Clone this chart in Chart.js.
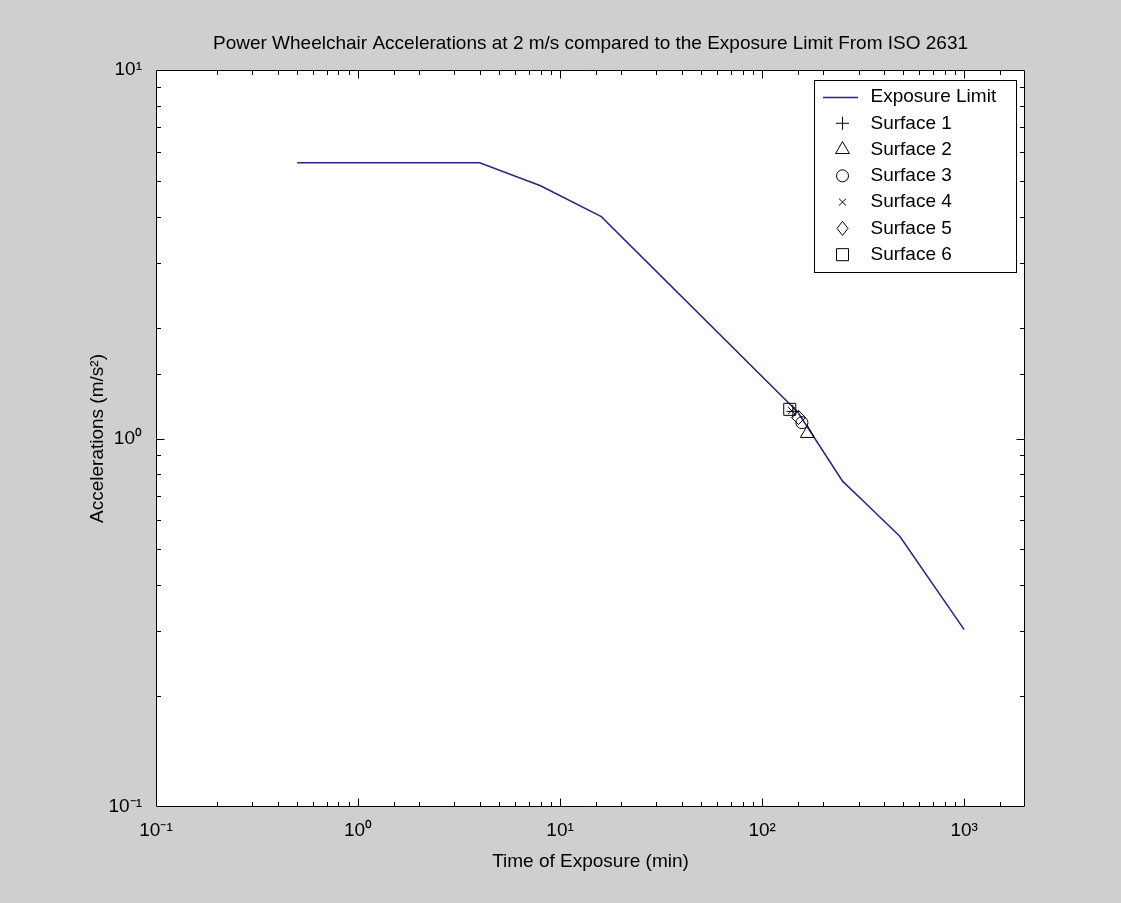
<!DOCTYPE html>
<html><head><meta charset="utf-8">
<script src="https://cdn.jsdelivr.net/npm/chart.js@4/dist/chart.umd.min.js"></script>
<style>html,body{margin:0;padding:0;background:#cfcfcf;overflow:hidden;}</style>
</head><body>
<canvas id="c" width="1121" height="903" style="display:block;width:1121px;height:903px;"></canvas>
<script>
// ---- data ----
const limitTime  = [0.5, 4, 8, 16, 150, 250, 330, 480, 1000];          // min
const limitAccel = [5.6, 5.6, 4.85, 4.0, 1.18, 0.766, 0.662, 0.543, 0.303]; // m/s^2
const surfaceNames  = ['Surface 1','Surface 2','Surface 3','Surface 4','Surface 5','Surface 6'];
const surfaceTime   = [142, 167.5, 157.4, 140, 151.3, 137];
const surfaceAccel  = [1.185, 1.032, 1.104, 1.19, 1.14, 1.20];
const surfaceStyles = ['cross','triangle','circle','crossRot','rectRot','rect'];
const surfaceRadius = [6.5, 8, 6, 5, 7, 8.5];
const xLimits = [0.1, 2000];
const yLimits = [0.1, 10];
const titleText = 'Power Wheelchair Accelerations at 2 m/s compared to the Exposure Limit From ISO 2631';
const xTitle = 'Time of Exposure (min)';
const yTitle = 'Accelerations (m/s\u00B2)';
const lineLabel = 'Exposure Limit';

const FONT = '"Liberation Sans", Arial, Helvetica, sans-serif';
const SUP = {'-':'\u207B','0':'\u2070','1':'\u00B9','2':'\u00B2','3':'\u00B3','4':'\u2074','5':'\u2075','6':'\u2076','7':'\u2077','8':'\u2078','9':'\u2079'};
function isDecade(v){ const l=Math.log10(v); return Math.abs(l-Math.round(l))<1e-9; }
function decadeLabel(v){
  if(!isDecade(v)) return '';
  const e = String(Math.round(Math.log10(v)));
  return '10' + e.split('').map(c=>SUP[c]).join('');
}

const bgPlugin = {
  id:'bg',
  beforeDraw(chart){
    const {ctx, chartArea:a} = chart;
    ctx.save();
    ctx.fillStyle = '#cfcfcf';
    ctx.fillRect(0,0,chart.width,chart.height);
    ctx.fillStyle = '#ffffff';
    ctx.fillRect(a.left,a.top,a.right-a.left,a.bottom-a.top);
    ctx.restore();
  }
};

const framePlugin = {
  id:'frame',
  afterDatasetsDraw(chart){
    const {ctx, chartArea:a, scales} = chart;
    ctx.save();
    ctx.strokeStyle = '#000';
    ctx.lineWidth = 1;
    const L=Math.round(a.left)+0.5, R=Math.round(a.right)-0.5, T=Math.round(a.top)+0.5, B=Math.round(a.bottom)-0.5;
    ctx.beginPath();
    ctx.rect(L,T,R-L,B-T);
    ctx.stroke();
    ctx.beginPath();
    scales.x.ticks.forEach(t=>{
      const v=t.value; if(v<=xLimits[0]||v>=xLimits[1]) return;
      const len = isDecade(v)?8:4.5;
      const p = Math.round(scales.x.getPixelForValue(v))+0.5;
      ctx.moveTo(p,B); ctx.lineTo(p,B-len);
      ctx.moveTo(p,T); ctx.lineTo(p,T+len);
    });
    scales.y.ticks.forEach(t=>{
      const v=t.value; if(v<=yLimits[0]||v>=yLimits[1]) return;
      const len = isDecade(v)?8:4.5;
      const p = Math.round(scales.y.getPixelForValue(v))+0.5;
      ctx.moveTo(L,p); ctx.lineTo(L+len,p);
      ctx.moveTo(R,p); ctx.lineTo(R-len,p);
    });
    ctx.stroke();
    ctx.restore();
  }
};

function drawMarker(ctx, style, r, x, y, w){
  const H = (window.Chart && Chart.helpers) ? Chart.helpers : null;
  if(H && H.drawPointLegend){
    ctx.beginPath && 0;
    H.drawPointLegend(ctx, {pointStyle:style, radius:r, rotation:0, borderWidth:1}, x, y, w);
    return;
  }
  ctx.beginPath();
  if(style==='line'){ ctx.moveTo(x-w/2,y); ctx.lineTo(x+w/2,y); ctx.stroke(); return; }
  if(style==='cross'){ ctx.moveTo(x-r,y); ctx.lineTo(x+r,y); ctx.moveTo(x,y-r); ctx.lineTo(x,y+r); }
  else if(style==='crossRot'){ const s=r*Math.SQRT1_2; ctx.moveTo(x-s,y-s); ctx.lineTo(x+s,y+s); ctx.moveTo(x-s,y+s); ctx.lineTo(x+s,y-s); }
  else if(style==='circle'){ ctx.arc(x,y,r,0,Math.PI*2); }
  else if(style==='triangle'){ ctx.moveTo(x,y-r); ctx.lineTo(x+0.866*r,y+r/2); ctx.lineTo(x-0.866*r,y+r/2); ctx.closePath(); }
  else if(style==='rectRot'){ const hw = w? w/2 : r; ctx.moveTo(x-hw,y); ctx.lineTo(x,y-r); ctx.lineTo(x+hw,y); ctx.lineTo(x,y+r); ctx.closePath(); }
  else if(style==='rect'){ const s=r*Math.SQRT1_2; ctx.rect(x-s,y-s,2*s,2*s); }
  ctx.stroke();
}

const legendPlugin = {
  id:'boxLegend',
  afterDraw(chart){
    const {ctx} = chart;
    const bx=814.5, by=80.5, bw=202, bh=192;
    ctx.save();
    ctx.fillStyle='#fff';
    ctx.fillRect(bx,by,bw,bh);
    ctx.strokeStyle='#000'; ctx.lineWidth=1;
    ctx.strokeRect(bx,by,bw,bh);
    const rows = chart.data.datasets.map(d=>d);
    const y0=97, dy=26.28, symX=842.5, textX=870.5;
    ctx.font = '19px ' + FONT;
    ctx.textBaseline='middle';
    ctx.textAlign='left';
    rows.forEach((d,i)=>{
      const y=y0+i*dy;
      ctx.save();
      ctx.strokeStyle = d.borderColor; ctx.fillStyle='rgba(0,0,0,0)'; ctx.lineWidth = d.showLine===false?1:1.5;
      if(d.showLine===false){
        const w = d.pointStyle==='rectRot' ? 11 : undefined;
        drawMarker(ctx, d.pointStyle, d.pointRadius, symX, y, w);
      } else {
        ctx.beginPath(); ctx.moveTo(823,y+0.5); ctx.lineTo(858,y+0.5); ctx.stroke();
      }
      ctx.restore();
      ctx.fillStyle='#000';
      ctx.fillText(d.label, textX, y);
    });
    ctx.restore();
  }
};

const datasets = [{
  label: lineLabel,
  data: limitTime.map((t,i)=>({x:t, y:limitAccel[i]})),
  borderColor:'#27277a',
  backgroundColor:'#27277a',
  borderWidth:1.5,
  pointRadius:0,
  tension:0,
  fill:false,
  order:1
}].concat(surfaceNames.map((name,i)=>({
  label:name,
  data:[{x:surfaceTime[i], y:surfaceAccel[i]}],
  showLine:false,
  pointStyle:surfaceStyles[i],
  pointRadius:surfaceRadius[i],
  borderColor:'#000',
  backgroundColor:'rgba(0,0,0,0)',
  pointBorderWidth:1,
  borderWidth:1,
  order:0
})));

Chart.defaults.font.family = FONT;
Chart.defaults.color = '#000';

new Chart(document.getElementById('c').getContext('2d'), {
  type:'line',
  data:{datasets},
  options:{
    responsive:false,
    animation:false,
    events:[],
    devicePixelRatio:1,
    layout:{padding:{left:0,right:96,top:0,bottom:0}},
    plugins:{
      legend:{display:false},
      tooltip:{enabled:false},
      title:{display:true, text:titleText, fullSize:false, color:'#000',
        font:{family:FONT, size:19, weight:'normal', lineHeight:1.2},
        padding:{top:32.6,bottom:14.6}}
    },
    scales:{
      x:{type:'logarithmic', position:'bottom', min:xLimits[0], max:xLimits[1],
        grid:{display:false, drawTicks:false, tickLength:0},
        border:{display:false},
        ticks:{autoSkip:false, maxRotation:0, minRotation:0, padding:12, color:'#000',
          font:{family:FONT, size:19}, callback:(v)=>decadeLabel(v)},
        title:{display:true, text:xTitle, color:'#000', font:{family:FONT,size:19,lineHeight:1.2}, padding:{top:0,bottom:30}},
        afterFit(s){ s.height = 96; }
      },
      y:{type:'logarithmic', position:'left', min:yLimits[0], max:yLimits[1],
        grid:{display:false, drawTicks:false, tickLength:0},
        border:{display:false},
        ticks:{autoSkip:false, padding:14, color:'#000',
          font:{family:FONT, size:19}, callback:(v)=>decadeLabel(v)},
        title:{display:true, text:yTitle, color:'#000', font:{family:FONT,size:19,lineHeight:1.2}, padding:{top:86,bottom:0}},
        afterFit(s){ s.width = 156; }
      }
    }
  },
  plugins:[bgPlugin, framePlugin, legendPlugin]
});
</script>
</body></html>
